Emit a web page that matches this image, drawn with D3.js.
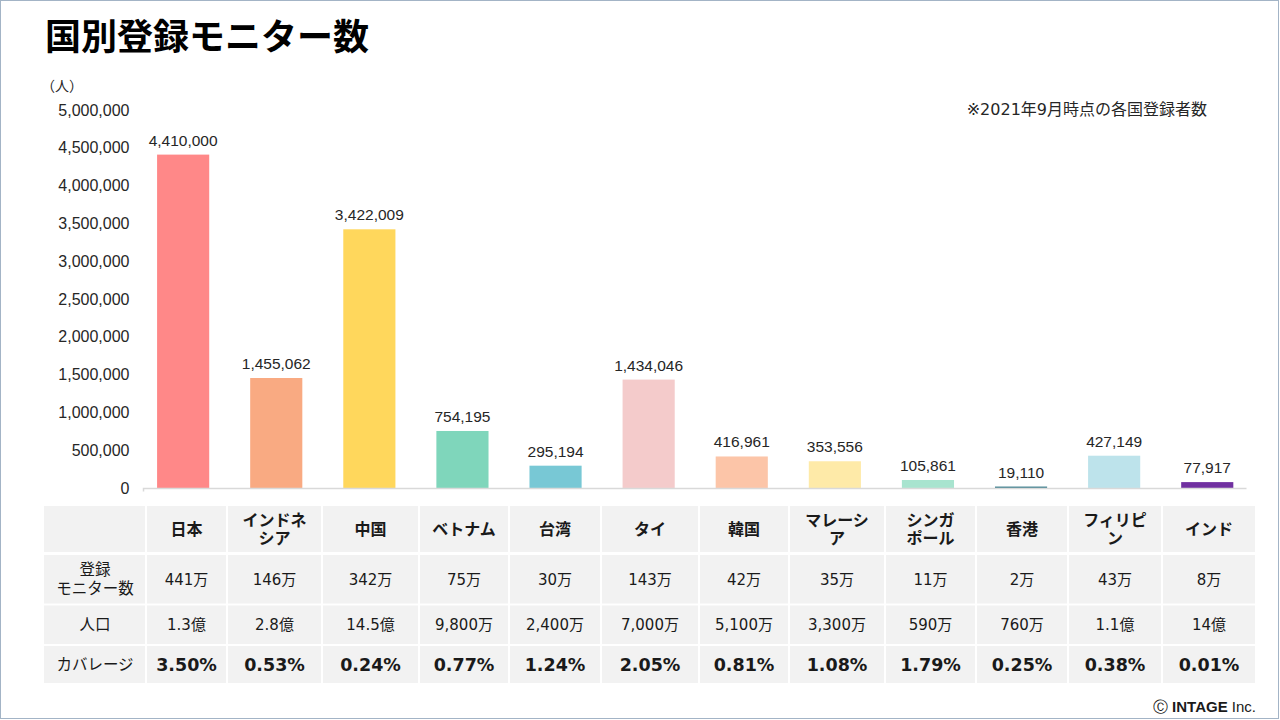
<!DOCTYPE html>
<html>
<head>
<meta charset="utf-8">
<script src="https://cdn.jsdelivr.net/npm/d3@7.9.0/dist/d3.min.js"></script>
<style>
  body { margin: 0; background: #fff; }
  svg { display: block; }
</style>
</head>
<body>
<svg id="chart" width="1280" height="720"></svg>
<script>
// --- data ---
const countries = ['日本', 'インドネシア', '中国', 'ベトナム', '台湾', 'タイ', '韓国', 'マレーシア', 'シンガポール', '香港', 'フィリピン', 'インド'];
const headerLines = [['日本'], ['インドネ', 'シア'], ['中国'], ['ベトナム'], ['台湾'], ['タイ'], ['韓国'], ['マレーシ', 'ア'], ['シンガ', 'ポール'], ['香港'], ['フィリピ', 'ン'], ['インド']];
const monitors = [4410000, 1455062, 3422009, 754195, 295194, 1434046, 416961, 353556, 105861, 19110, 427149, 77917];
const monitorsShort = ['441万', '146万', '342万', '75万', '30万', '143万', '42万', '35万', '11万', '2万', '43万', '8万'];
const population = ['1.3億', '2.8億', '14.5億', '9,800万', '2,400万', '7,000万', '5,100万', '3,300万', '590万', '760万', '1.1億', '14億'];
const coverage = ['3.50%', '0.53%', '0.24%', '0.77%', '1.24%', '2.05%', '0.81%', '1.08%', '1.79%', '0.25%', '0.38%', '0.01%'];
const rowLabels = [['登録', 'モニター数'], ['人口'], ['カバレージ']];
const yTicks = d3.range(0, 5000001, 500000);
const barColors = ['#ff8888', '#f9aa82', '#ffd75c', '#7fd6bb', '#78c8d5', '#f4cbcb', '#fcc5a8', '#feeaa8', '#a8e4cf', '#3f7f8e', '#bde3eb', '#7030a0'];

const svg = d3.select('#chart');

// slide frame
svg.append('rect')
  .attr('x', 0.5).attr('y', 0.5)
  .attr('width', 1278).attr('height', 718)
  .attr('fill', 'none')
  .attr('stroke', '#a3b4c6');

// title
svg.append('text')
  .attr('x', 45).attr('y', 50)
  .attr('font-family', '"Noto Sans CJK JP"')
  .attr('font-weight', 700)
  .attr('font-size', 36)
  .attr('fill', '#000')
  .text('国別登録モニター数');

svg.append('text')
  .attr('x', 41).attr('y', 91)
  .attr('font-family', '"Noto Sans CJK JP"')
  .attr('font-size', 14)
  .attr('fill', '#262626')
  .text('（人）');

svg.append('text')
  .attr('x', 1207).attr('y', 115)
  .attr('text-anchor', 'end')
  .attr('font-family', '"DejaVu Sans", "Noto Sans CJK JP"')
  .attr('font-size', 16)
  .attr('fill', '#262626')
  .text('※2021年9月時点の各国登録者数');

// --- chart ---
const x = d3.scaleBand()
  .domain(countries)
  .range([136.6, 1253.8])
  .paddingInner(0.44)
  .paddingOuter(0.22);

const y = d3.scaleLinear()
  .domain([0, 5000000])
  .range([488, 110]);

const yAxis = svg.append('g')
  .attr('transform', 'translate(143.5,0)')
  .call(d3.axisLeft(y).tickValues(yTicks).tickSize(0).tickPadding(14).tickFormat(d3.format(',')));
yAxis.select('.domain').remove();
yAxis.selectAll('text')
  .attr('font-family', '"Liberation Sans", Arial, sans-serif')
  .attr('font-size', 16)
  .attr('fill', '#262626');

svg.append('g')
  .selectAll('rect')
  .data(countries)
  .join('rect')
  .attr('x', d => x(d))
  .attr('width', x.bandwidth())
  .attr('y', (d, i) => y(monitors[i]))
  .attr('height', (d, i) => y(0) - y(monitors[i]))
  .attr('fill', (d, i) => barColors[i]);

// category axis line
svg.append('path')
  .attr('d', `M143.5,491.5V488.5H1246.5`)
  .attr('fill', 'none')
  .attr('stroke', '#d9d9d9')
  .attr('stroke-width', 1.5);

svg.append('g')
  .selectAll('text')
  .data(countries)
  .join('text')
  .attr('x', d => x(d) + x.bandwidth() / 2)
  .attr('y', (d, i) => y(monitors[i]) - 9)
  .attr('text-anchor', 'middle')
  .attr('font-family', '"Liberation Sans", Arial, sans-serif')
  .attr('font-size', 15.5)
  .attr('fill', '#262626')
  .text((d, i) => d3.format(',')(monitors[i]));

// --- table ---
const colEdges = [44, 146, 227, 322, 419, 509, 601, 699, 789, 885, 976, 1068, 1162, 1256];
const rowEdges = [[506, 552], [555, 603.5], [605.5, 644], [646, 683]];
const table = svg.append('g');

rowEdges.forEach(([r0, r1]) => {
  table.append('g')
    .selectAll('rect')
    .data(d3.range(colEdges.length - 1))
    .join('rect')
    .attr('x', c => colEdges[c] + (c === 0 ? 0 : 1))
    .attr('width', c => colEdges[c + 1] - colEdges[c] - (c === 0 ? 1 : 2))
    .attr('y', r0)
    .attr('height', r1 - r0)
    .attr('fill', '#f2f2f2');
});

const colCenter = c => (colEdges[c] + colEdges[c + 1]) / 2;
const jpFont = '"DejaVu Sans", "Noto Sans CJK JP"';

function cellText(cx, cy, lines, opts) {
  const lh = opts.lineHeight || 18;
  const t = table.append('text')
    .attr('text-anchor', 'middle')
    .attr('font-family', opts.family || jpFont)
    .attr('font-size', opts.size)
    .attr('font-weight', opts.weight || 400)
    .attr('fill', '#1a1a1a');
  lines.forEach((ln, k) => {
    t.append('tspan')
      .attr('x', cx)
      .attr('y', cy + (k - (lines.length - 1) / 2) * lh)
      .attr('dy', '0.36em')
      .text(ln);
  });
}

const rowMid = rowEdges.map(([a, b]) => (a + b) / 2);

headerLines.forEach((lines, i) => {
  cellText(colCenter(i + 1), rowMid[0], lines, { size: 16, weight: 700, family: '"Noto Sans CJK JP"', lineHeight: 18 });
});
rowLabels.forEach((lines, r) => {
  cellText(colCenter(0), rowMid[r + 1], lines, { size: 15.5, family: '"Noto Sans CJK JP"', lineHeight: 19 });
});
monitorsShort.forEach((v, i) => cellText(colCenter(i + 1), rowMid[1], [v], { size: 15 }));
population.forEach((v, i) => cellText(colCenter(i + 1), rowMid[2], [v], { size: 15 }));
coverage.forEach((v, i) => cellText(colCenter(i + 1), rowMid[3], [v], { size: 17.5, weight: 700 }));

// footer
const foot = svg.append('text')
  .attr('x', 1256).attr('y', 712)
  .attr('text-anchor', 'end')
  .attr('font-family', '"Liberation Sans", Arial, sans-serif')
  .attr('font-size', 15)
  .attr('fill', '#1a1a1a');
foot.append('tspan').text('Ⓒ ');
foot.append('tspan').attr('font-weight', 700).text('INTAGE');
foot.append('tspan').text(' Inc.');
</script>
</body>
</html>
